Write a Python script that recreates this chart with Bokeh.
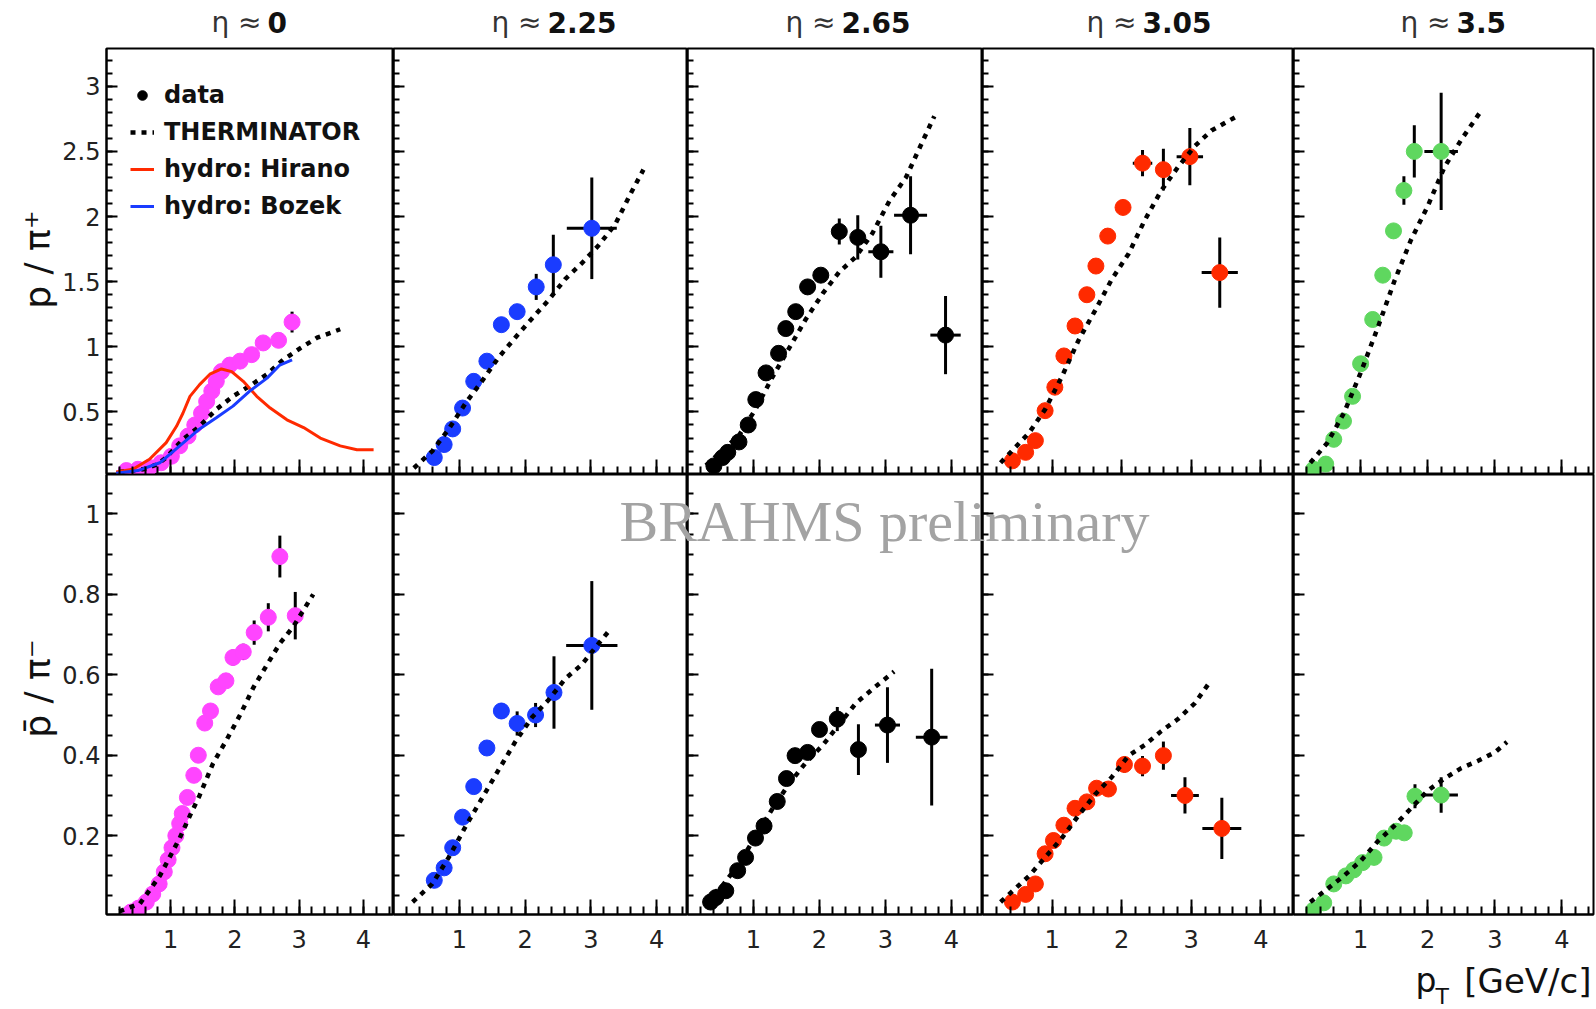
import numpy as np
from bokeh.plotting import figure
from bokeh.models import (Range1d, FixedTicker, Legend, LegendItem, GridBox, Label,
                          CustomLabelingPolicy)
from bokeh.embed import file_html
from bokeh.resources import INLINE

# ---------------- data ----------------
ETA = ["0", "2.25", "2.65", "3.05", "3.5"]
DATA_COLORS = ["#ff45ff", "#1a3cff", "#000000", "#ff2a00", "#5fd75f"]

# p / pi+  (top row), one list per eta bin
pp_x = [
    [0.31, 0.49, 0.67, 0.85, 1.01, 1.14, 1.27, 1.375, 1.48, 1.56, 1.64, 1.71, 1.79, 1.92, 2.08, 2.26, 2.44, 2.68, 2.89],
    [0.62, 0.77, 0.90, 1.05, 1.22, 1.42, 1.64, 1.88, 2.17, 2.43, 3.015],
    [0.40, 0.53, 0.61, 0.78, 0.92, 1.035, 1.19, 1.38, 1.49, 1.64, 1.82, 2.02, 2.30, 2.58, 2.93, 3.38, 3.91],
    [0.43, 0.62, 0.76, 0.90, 1.04, 1.17, 1.33, 1.50, 1.63, 1.80, 2.02, 2.30, 2.60, 2.98, 3.41],
    [0.30, 0.48, 0.60, 0.745, 0.88, 1.00, 1.18, 1.33, 1.49, 1.645, 1.80, 2.20],
]
pp_y = [
    [0.05, 0.06, 0.074, 0.11, 0.16, 0.24, 0.315, 0.40, 0.49, 0.58, 0.66, 0.735, 0.81, 0.86, 0.89, 0.94, 1.03, 1.05, 1.19],
    [0.15, 0.25, 0.37, 0.53, 0.735, 0.89, 1.17, 1.27, 1.46, 1.63, 1.91],
    [0.086, 0.15, 0.19, 0.27, 0.40, 0.595, 0.80, 0.95, 1.14, 1.27, 1.46, 1.55, 1.885, 1.84, 1.73, 2.01, 1.09],
    [0.125, 0.19, 0.28, 0.51, 0.69, 0.93, 1.16, 1.40, 1.62, 1.85, 2.07, 2.41, 2.36, 2.46, 1.57],
    [0.06, 0.10, 0.29, 0.43, 0.62, 0.87, 1.21, 1.55, 1.89, 2.20, 2.50, 2.50],
]
pp_ey = [
    [0, 0, 0, 0, 0, 0, 0, 0, 0, 0, 0, 0, 0, 0, 0, 0, 0, 0.04, 0.08],
    [0, 0, 0, 0, 0, 0, 0, 0, 0.10, 0.23, 0.39],
    [0, 0, 0, 0, 0, 0, 0, 0, 0, 0, 0, 0, 0.10, 0.17, 0.20, 0.30, 0.30],
    [0, 0, 0, 0, 0, 0, 0, 0, 0, 0, 0, 0.10, 0.16, 0.22, 0.27],
    [0, 0, 0, 0, 0, 0, 0, 0, 0, 0.11, 0.20, 0.45],
]
pp_ex = [
    [0, 0, 0, 0, 0, 0, 0, 0, 0, 0, 0, 0, 0, 0, 0, 0, 0, 0, 0],
    [0, 0, 0, 0, 0, 0, 0, 0, 0, 0, 0.38],
    [0, 0, 0, 0, 0, 0, 0, 0, 0, 0, 0, 0, 0.05, 0, 0.19, 0.25, 0.23],
    [0, 0, 0, 0, 0, 0, 0, 0, 0, 0, 0, 0.14, 0, 0.19, 0.26],
    [0, 0, 0, 0, 0, 0, 0, 0, 0, 0, 0.10, 0.25],
]
# THERMINATOR p / pi+
thp_x = [
    [0.20, 0.57, 0.80, 0.93, 1.19, 1.45, 1.71, 1.97, 2.23, 2.50, 2.75, 3.02, 3.28, 3.64],
    [0.31, 0.59, 0.84, 1.10, 1.35, 1.60, 1.85, 2.11, 2.36, 2.61, 2.86, 3.12, 3.37, 3.62, 3.80],
    [0.28, 0.78, 1.03, 1.29, 1.54, 1.79, 2.05, 2.30, 2.55, 2.80, 3.06, 3.31, 3.51, 3.74],
    [0.26, 0.67, 0.90, 1.14, 1.38, 1.62, 1.86, 2.10, 2.33, 2.57, 2.81, 3.05, 3.29, 3.69],
    [0.25, 0.50, 0.75, 1.00, 1.25, 1.50, 1.75, 2.00, 2.25, 2.50, 2.78],
]
thp_y = [
    [0.04, 0.06, 0.10, 0.15, 0.29, 0.39, 0.52, 0.62, 0.70, 0.79, 0.90, 0.99, 1.07, 1.135],
    [0.07, 0.20, 0.37, 0.57, 0.74, 0.92, 1.07, 1.22, 1.36, 1.52, 1.64, 1.78, 1.94, 2.19, 2.36],
    [0.09, 0.32, 0.52, 0.77, 0.99, 1.21, 1.41, 1.575, 1.69, 1.87, 2.12, 2.30, 2.52, 2.77],
    [0.11, 0.34, 0.52, 0.77, 1.05, 1.28, 1.52, 1.715, 1.97, 2.20, 2.38, 2.54, 2.66, 2.78],
    [0.11, 0.26, 0.49, 0.80, 1.14, 1.50, 1.82, 2.08, 2.38, 2.59, 2.80],
]
# hydro curves (eta ~ 0, p / pi+)
hirano_x = [0.15, 0.41, 0.67, 0.93, 1.09, 1.19, 1.30, 1.45, 1.61, 1.79, 1.95, 2.13, 2.34, 2.55, 2.81, 3.07, 3.33, 3.64, 3.90, 4.16]
hirano_y = [0.04, 0.06, 0.137, 0.265, 0.39, 0.49, 0.62, 0.71, 0.79, 0.83, 0.81, 0.735, 0.62, 0.53, 0.44, 0.38, 0.30, 0.24, 0.21, 0.21]
bozek_x = [0.15, 0.49, 0.83, 1.14, 1.45, 1.71, 1.97, 2.23, 2.50, 2.70, 2.89]
bozek_y = [0.03, 0.05, 0.11, 0.24, 0.37, 0.455, 0.545, 0.66, 0.76, 0.86, 0.90]

# pbar / pi-  (bottom row)
pb_x = [
    [0.38, 0.50, 0.62, 0.72, 0.82, 0.90, 0.96, 1.02, 1.08, 1.14, 1.18, 1.26, 1.36, 1.43, 1.53, 1.62, 1.74, 1.86, 1.97, 2.13, 2.30, 2.52, 2.70, 2.94],
    [0.62, 0.77, 0.90, 1.05, 1.22, 1.42, 1.64, 1.88, 2.16, 2.44, 3.015],
    [0.35, 0.43, 0.58, 0.76, 0.88, 1.03, 1.16, 1.36, 1.50, 1.63, 1.82, 2.00, 2.27, 2.59, 3.03, 3.70],
    [0.43, 0.62, 0.76, 0.90, 1.02, 1.17, 1.33, 1.50, 1.64, 1.81, 2.04, 2.30, 2.60, 2.91, 3.44],
    [0.30, 0.45, 0.60, 0.78, 0.90, 1.03, 1.20, 1.35, 1.53, 1.65, 1.81, 2.20],
]
pb_y = [
    [0.010, 0.020, 0.035, 0.055, 0.080, 0.110, 0.140, 0.170, 0.200, 0.230, 0.255, 0.295, 0.350, 0.400, 0.480, 0.510, 0.570, 0.585, 0.643, 0.657, 0.705, 0.743, 0.894, 0.747],
    [0.089, 0.120, 0.170, 0.246, 0.322, 0.418, 0.510, 0.479, 0.500, 0.556, 0.673],
    [0.035, 0.046, 0.063, 0.113, 0.146, 0.194, 0.224, 0.285, 0.342, 0.399, 0.407, 0.464, 0.490, 0.414, 0.475, 0.445],
    [0.035, 0.054, 0.080, 0.155, 0.188, 0.226, 0.268, 0.284, 0.318, 0.316, 0.377, 0.373, 0.399, 0.300, 0.218],
    [0.015, 0.033, 0.080, 0.100, 0.115, 0.133, 0.146, 0.194, 0.211, 0.207, 0.298, 0.301],
]
pb_ey = [
    [0, 0, 0, 0, 0, 0, 0, 0, 0, 0, 0, 0, 0, 0, 0, 0, 0, 0, 0.02, 0.02, 0.03, 0.035, 0.052, 0.059],
    [0, 0, 0, 0, 0, 0, 0.02, 0.03, 0.03, 0.09, 0.16],
    [0, 0, 0, 0, 0, 0, 0, 0, 0, 0, 0, 0, 0.03, 0.063, 0.094, 0.17],
    [0, 0, 0, 0, 0, 0, 0, 0, 0, 0, 0.02, 0.025, 0.035, 0.045, 0.076],
    [0, 0, 0, 0, 0, 0, 0, 0, 0, 0, 0.03, 0.044],
]
pb_ex = [
    [0, 0, 0, 0, 0, 0, 0, 0, 0, 0, 0, 0, 0, 0, 0, 0, 0, 0, 0, 0, 0, 0, 0, 0],
    [0, 0, 0, 0, 0, 0, 0, 0, 0, 0, 0.39],
    [0, 0, 0, 0, 0, 0, 0, 0, 0, 0, 0, 0, 0, 0, 0.19, 0.24],
    [0, 0, 0, 0, 0, 0, 0, 0, 0, 0, 0, 0, 0, 0.20, 0.28],
    [0, 0, 0, 0, 0, 0, 0, 0, 0, 0, 0, 0.25],
]
# THERMINATOR pbar / pi-
thb_x = [
    [0.20, 0.52, 0.83, 1.14, 1.30, 1.45, 1.66, 1.87, 2.08, 2.29, 2.50, 2.70, 2.91, 3.22],
    [0.29, 0.59, 0.84, 1.10, 1.35, 1.60, 1.85, 2.11, 2.36, 2.61, 2.86, 3.12, 3.29],
    [0.28, 0.53, 0.78, 1.03, 1.29, 1.54, 1.79, 2.05, 2.30, 2.55, 2.80, 3.13],
    [0.26, 0.67, 0.90, 1.14, 1.38, 1.62, 1.86, 2.10, 2.33, 2.57, 2.81, 3.05, 3.26],
    [0.25, 0.50, 0.75, 1.00, 1.25, 1.50, 1.75, 2.00, 2.25, 2.50, 2.75, 3.00, 3.18],
]
thb_y = [
    [0.012, 0.031, 0.100, 0.194, 0.250, 0.300, 0.380, 0.438, 0.500, 0.569, 0.625, 0.678, 0.720, 0.800],
    [0.035, 0.080, 0.146, 0.224, 0.294, 0.364, 0.433, 0.495, 0.538, 0.590, 0.625, 0.678, 0.712],
    [0.037, 0.076, 0.129, 0.198, 0.268, 0.329, 0.381, 0.425, 0.477, 0.529, 0.564, 0.608],
    [0.035, 0.100, 0.146, 0.194, 0.250, 0.303, 0.346, 0.399, 0.425, 0.460, 0.490, 0.529, 0.580],
    [0.035, 0.067, 0.100, 0.137, 0.185, 0.224, 0.268, 0.312, 0.342, 0.368, 0.386, 0.407, 0.433],
]

X_TICKS = [1, 2, 3, 4]
X_MINOR = [round(0.2 * i, 2) for i in range(1, 23)]
Y_TICKS = [[0.5, 1, 1.5, 2, 2.5, 3], [0.2, 0.4, 0.6, 0.8, 1]]
Y_MINOR = [[round(0.1 * i, 2) for i in range(1, 33)], [round(0.05 * i, 2) for i in range(1, 22)]]
X_END = 4.47
Y_START = [0.02, 0.004]
Y_END = [3.29, 1.098]

# ---------------- layout ----------------
COL_W = [393, 294, 295, 311, 303]
BORDER_L = [106, 0, 0, 0, 0]
BORDER_R = [0, 0, 0, 0, 3]
ROW_H = [474, 535]
BORDER_T = [48, 0]
BORDER_B = [0, 95]
FONT = "DejaVu Sans"

HIDE_LABELS = CustomLabelingPolicy(code="""
const all = Array.from(indices)
for (const i of all) indices.unset(i)
return indices
""")


def style_axis(ax, ticks, minor, tick_in, minor_in, show, standoff):
    ax.ticker = FixedTicker(ticks=ticks, minor_ticks=minor)
    ax.major_label_overrides = {t: f"{t:g}" for t in ticks}
    ax.axis_line_color = "black"
    ax.axis_line_width = 2
    ax.major_tick_line_color = "black"
    ax.major_tick_line_width = 2
    ax.minor_tick_line_color = "black"
    ax.minor_tick_line_width = 2
    ax.major_tick_in = tick_in
    ax.major_tick_out = 0
    ax.minor_tick_in = minor_in
    ax.minor_tick_out = 0
    if show:
        ax.major_label_text_font = FONT
        ax.major_label_text_font_size = "24px"
        ax.major_label_text_color = "#222222"
        ax.major_label_standoff = standoff
    else:
        ax.major_label_text_font_size = "0px"
        ax.major_label_standoff = 0
        ax.major_label_policy = HIDE_LABELS


def err_segments(xs, ys, exs, eys):
    x0, y0, x1, y1 = [], [], [], []
    for x, y, ex, ey in zip(xs, ys, exs, eys):
        if ey > 0:
            x0.append(x); y0.append(y - ey); x1.append(x); y1.append(y + ey)
        if ex > 0:
            x0.append(x - ex); y0.append(y); x1.append(x + ex); y1.append(y)
    return x0, y0, x1, y1


children = []
for r in range(2):
    for c in range(5):
        p = figure(width=COL_W[c], height=ROW_H[r],
                   x_range=Range1d(0, X_END), y_range=Range1d(Y_START[r], Y_END[r]),
                   min_border_left=BORDER_L[c], min_border_right=BORDER_R[c],
                   min_border_top=BORDER_T[r], min_border_bottom=BORDER_B[r],
                   toolbar_location=None, output_backend="svg")
        p.grid.visible = False
        p.outline_line_color = "black"
        p.outline_line_width = 2
        style_axis(p.xaxis[0], X_TICKS, X_MINOR, 15, 8, r == 1, 15)
        style_axis(p.yaxis[0], Y_TICKS[r], Y_MINOR[r], 11, 6, c == 0, 6)

        if r == 0:
            xs, ys, exs, eys, tx, ty = pp_x[c], pp_y[c], pp_ex[c], pp_ey[c], thp_x[c], thp_y[c]
        else:
            xs, ys, exs, eys, tx, ty = pb_x[c], pb_y[c], pb_ex[c], pb_ey[c], thb_x[c], thb_y[c]

        x0, y0, x1, y1 = err_segments(xs, ys, exs, eys)
        p.segment(x0=x0, y0=y0, x1=x1, y1=y1, line_color="black", line_width=3)
        p.scatter(x=xs, y=ys, size=16, marker="circle", fill_color=DATA_COLORS[c],
                  line_color=DATA_COLORS[c])
        therm = p.line(x=tx, y=ty, line_color="black", line_width=4.5, line_dash="5 6")

        if r == 0 and c == 0:
            hir = p.line(x=hirano_x, y=hirano_y, line_color="#ff2a00", line_width=3)
            boz = p.line(x=bozek_x, y=bozek_y, line_color="#1a3cff", line_width=3)
            # legend key for "data": the black (eta ~ 2.65) data style, hidden in this panel
            key = p.scatter(x=pp_x[2][:1], y=pp_y[2][:1], size=16, marker="circle",
                            fill_color="black", line_color="black", visible=False)
            legend = Legend(items=[
                LegendItem(label="data", renderers=[key]),
                LegendItem(label="THERMINATOR", renderers=[therm]),
                LegendItem(label="hydro: Hirano", renderers=[hir]),
                LegendItem(label="hydro: Bozek", renderers=[boz]),
            ], location=(24, 250), margin=0, padding=0, spacing=0,
                border_line_color=None, background_fill_alpha=0,
                inactive_fill_alpha=0,
                label_text_font=FONT, label_text_font_style="bold",
                label_text_font_size="24px", label_text_color="#111111",
                glyph_width=24, glyph_height=30, label_height=37, label_standoff=10)
            p.add_layout(legend)
        children.append((p, r, c))

# ---------------- overlay with free texts (pixel coordinates) ----------------
ov = figure(width=1596, height=1009, x_range=Range1d(0, 1596), y_range=Range1d(1009, 0),
            x_axis_type=None, y_axis_type=None, min_border=0, toolbar_location=None,
            output_backend="svg")
if "frame_align" in ov.properties():
    ov.frame_align = False   # keep the overlay frame on the whole page
ov.outline_line_color = None
ov.background_fill_alpha = 0
ov.border_fill_alpha = 0
ov.grid.visible = False


def add_label(x, y, text, size, style="normal", align="left", baseline="alphabetic",
              color="#111111", angle=0.0, font=FONT):
    ov.add_layout(Label(x=x, y=y, text=text, text_font=font, text_font_size=size,
                        text_font_style=style, text_align=align, text_baseline=baseline,
                        text_color=color, angle=angle))


TITLE_NUM_X = [267, 547, 841, 1142, 1456]
for nx, eta in zip(TITLE_NUM_X, ETA):
    add_label(nx - 6, 22, "η ≈", "28px", align="right", color="#333333")
    add_label(nx, 22, eta, "28px", style="bold", align="left")

add_label(37, 259, "p / π⁺", "36px", align="center", baseline="middle", angle=np.pi / 2)
add_label(37, 688, "p̄ / π⁻", "36px", align="center", baseline="middle", angle=np.pi / 2)
add_label(1415, 980, "p", "33px")
add_label(1435, 996, "T", "22px")
add_label(1591, 980, "[GeV/c]", "34px", align="right")
add_label(619, 521, "BRAHMS preliminary", "58px", color="#a3a3a3", font="Liberation Serif")
children.append((ov, 0, 0, 2, 5))

grid = GridBox(children=children, spacing=0)
open("out.html", "w").write(file_html(grid, INLINE, title="BRAHMS p/pi ratios"))
